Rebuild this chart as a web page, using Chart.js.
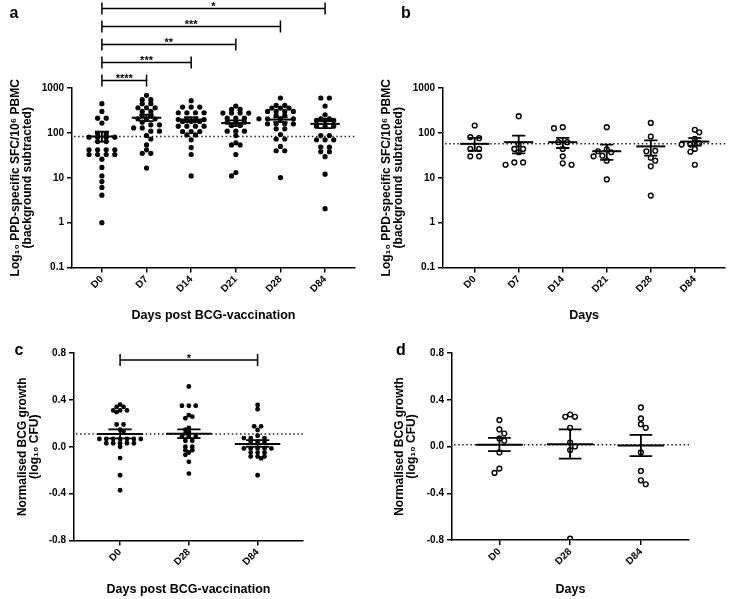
<!DOCTYPE html>
<html><head><meta charset="utf-8">
<script src="https://cdn.jsdelivr.net/npm/chart.js@4.4.1/dist/chart.umd.min.js"></script>
<style>
html,body{margin:0;padding:0;background:#fff;}
#wrap{position:relative;width:729px;height:599px;overflow:hidden;background:#fff;}
#wrap canvas{position:absolute;left:0;top:0;}
</style></head><body>
<div id="wrap">
<canvas id="ca" width="729" height="599"></canvas>
<canvas id="cb" width="729" height="599"></canvas>
<canvas id="cc" width="729" height="599"></canvas>
<canvas id="cd" width="729" height="599"></canvas>
</div>
<script>
// ---------- categories & tick labels ----------
const catsAB = ['D0','D7','D14','D21','D28','D84'];
const catsCD = ['D0','D28','D84'];
const logTicks = [0.1, 1, 10, 100, 1000];
const linTicks = [-0.8, -0.4, 0, 0.4, 0.8];

// ---------- panel a : PPD-specific SFC (log) ----------
const aD0  = [447, 301, 213, 213, 165, 98, 98, 80, 80, 80, 80, 64, 64, 42, 42, 42, 42, 33, 33, 33, 33, 26, 17, 11, 8.2, 6.1, 4.1, 1];
const aD7  = [687, 550, 550, 447, 447, 363, 363, 363, 301, 301, 245, 245, 206, 206, 206, 173, 151, 151, 129, 129, 109, 109, 87, 73, 54, 42, 35, 35, 16.4];
const aD14 = [521, 376, 376, 376, 281, 281, 281, 281, 198, 198, 198, 198, 180, 180, 180, 141, 141, 141, 141, 107, 107, 107, 90, 90, 70, 47, 33, 11];
const aD21 = [396, 333, 333, 276, 276, 276, 276, 213, 213, 213, 173, 173, 173, 146, 146, 109, 109, 109, 87, 60, 54, 54, 33, 13.1, 11];
const aD28 = [599, 410, 410, 357, 357, 357, 301, 301, 301, 301, 245, 245, 206, 206, 206, 206, 159, 159, 159, 159, 123, 123, 92, 73, 73, 50, 40, 40, 10.1];
const aD84 = [599, 599, 396, 253, 206, 206, 189, 189, 189, 141, 141, 141, 87, 87, 70, 70, 70, 48, 48, 38, 38, 29.5, 12, 2.05];
const aMean = [83, 217, 198, 165, 198, 159];
const aLow  = [64, 183, 173, 141, 173, 127];
const aHigh = [107, 254, 224, 189, 221, 183];
const aSig = [['D0','D7','****'], ['D0','D14','***'], ['D0','D21','**'], ['D0','D28','***'], ['D0','D84','*']];

// ---------- panel b : controls (log) ----------
const bD0  = [146, 80, 76, 44, 44, 30, 30];
const bD7  = [235, 56, 44, 44, 37, 22, 22, 19.5];
const bD14 = [134, 127, 62, 62, 44, 30, 21, 19.5];
const bD21 = [134, 43, 39, 37, 31, 30, 24, 9.2];
const bD28 = [167, 83, 40, 39, 28, 24, 18, 4.0];
const bD84 = [117, 103, 74, 59, 55, 55, 44, 38, 19.5];
const bMean = [57, 62, 62, 39, 50, 64];
const bLow  = [40, 35, 46, 25, 31, 52];
const bHigh = [77, 87, 77, 55, 68, 76];

// ---------- panel c : normalised BCG growth ----------
const cD0  = [0.36, 0.34, 0.34, 0.31, 0.31, 0.31, 0.295, 0.19, 0.19, 0.146, 0.13, 0.066, 0.066, 0.066, 0.066, 0.066, 0.066, 0.066, 0.03, 0.03, 0.03, 0.03, 0.03, 0.0, -0.097, -0.243, -0.371];
const cD28 = [0.514, 0.35, 0.35, 0.35, 0.27, 0.257, 0.243, 0.16, 0.146, 0.129, 0.114, 0.086, 0.086, 0.086, 0.051, 0.051, 0.0, 0.0, -0.029, -0.029, -0.049, -0.069, -0.129, -0.229];
const cD84 = [0.357, 0.32, 0.174, 0.174, 0.143, 0.094, 0.074, 0.074, 0.074, 0.043, 0.043, 0.043, -0.014, -0.014, -0.014, -0.014, -0.014, -0.05, -0.05, -0.05, -0.083, -0.083, -0.083, -0.1, -0.243];
const cMean = [0.109, 0.11, 0.023];
const cLow  = [0.071, 0.074, 0.0];
const cHigh = [0.149, 0.149, 0.057];
const cSig = [['D0','D84','*']];

// ---------- panel d : controls growth ----------
const dD0  = [0.226, 0.146, 0.111, 0.069, 0.049, -0.051, -0.189, -0.226];
const dD28 = [0.274, 0.254, 0.254, 0.16, 0.034, 0.0, -0.031, -0.789];
const dD84 = [0.334, 0.24, 0.191, 0.16, -0.051, -0.209, -0.289, -0.323];
const dMean = [0.014, 0.02, 0.009];
const dLow  = [-0.04, -0.103, -0.083];
const dHigh = [0.074, 0.146, 0.1];

// ---------- text ----------
const yTitleAB = ['Log\u2081\u2080 PPD-specific SFC/10\u2076 PBMC', '(background subtracted)'];
const yTitleCD = ['Normalised BCG growth', '(log\u2081\u2080 CFU)'];

const FONT = "'Liberation Sans', Arial, Helvetica, sans-serif";

const deco = {
  id: 'deco',
  beforeDatasetsDraw(chart, args, o) {
    const {ctx, chartArea: ca} = chart;
    const y = chart.scales.y.getPixelForValue(o.means[0]);
    ctx.save();
    ctx.strokeStyle = '#222'; ctx.lineWidth = 1.5; ctx.setLineDash([1.5, 2.6]);
    ctx.beginPath(); ctx.moveTo(ca.left + 2, y); ctx.lineTo(ca.right, y); ctx.stroke();
    ctx.restore();
  },
  afterDatasetsDraw(chart, args, o) {
    const {ctx, chartArea: ca} = chart;
    const xs = chart.scales.x, ys = chart.scales.y;
    const unit = xs.getPixelForValue(1) - xs.getPixelForValue(0);
    ctx.save();
    ctx.strokeStyle = '#000'; ctx.fillStyle = '#000'; ctx.lineCap = 'butt';
    o.means.forEach((m, i) => {
      const xc = xs.getPixelForValue(i);
      const ym = ys.getPixelForValue(m), yl = ys.getPixelForValue(o.low[i]), yh = ys.getPixelForValue(o.high[i]);
      ctx.lineWidth = 2;
      ctx.beginPath(); ctx.moveTo(xc - o.mw * unit, ym); ctx.lineTo(xc + o.mw * unit, ym); ctx.stroke();
      ctx.lineWidth = 1.8;
      ctx.beginPath();
      ctx.moveTo(xc, yl); ctx.lineTo(xc, yh);
      ctx.moveTo(xc - o.cw * unit, yl); ctx.lineTo(xc + o.cw * unit, yl);
      ctx.moveTo(xc - o.cw * unit, yh); ctx.lineTo(xc + o.cw * unit, yh);
      ctx.stroke();
    });
    (o.sig || []).forEach((s, k) => {
      const x1 = xs.getPixelForValue(o.cats.indexOf(s[0]));
      const x2 = xs.getPixelForValue(o.cats.indexOf(s[1]));
      const y = ca.top + o.sigY0 - o.sigStep * k;
      ctx.lineWidth = 1.5;
      ctx.beginPath();
      ctx.moveTo(x1, y); ctx.lineTo(x2, y);
      ctx.moveTo(x1, y - 6); ctx.lineTo(x1, y + 6);
      ctx.moveTo(x2, y - 6); ctx.lineTo(x2, y + 6);
      ctx.stroke();
      ctx.font = 'bold 11px ' + FONT; ctx.textAlign = 'center'; ctx.textBaseline = 'alphabetic';
      ctx.fillText(s[2], (x1 + x2) / 2, y + 1.5);
    });
    ctx.font = 'bold 16px ' + FONT; ctx.textAlign = 'center'; ctx.textBaseline = 'middle';
    ctx.fillText(o.letter, o.lx, o.ly);
    ctx.restore();
  }
};

function swarm(chart, p) {
  const xs = chart.scales.x, ys = chart.scales.y;
  const unit = xs.getPixelForValue(1) - xs.getPixelForValue(0);
  const ds = chart.data.datasets[0];
  const groups = {};
  ds.data.forEach((pt, i) => { (groups[pt.cat] = groups[pt.cat] || []).push({i, py: ys.getPixelForValue(pt.y)}); });
  let flip = 1;
  Object.keys(groups).forEach(cat => {
    const pts = groups[cat].sort((a, b) => a.py - b.py);
    const rows = []; let cur = null;
    pts.forEach(q => { if (cur && q.py - cur[0].py <= 1) cur.push(q); else { cur = [q]; rows.push(cur); } });
    const placed = [];
    rows.forEach(row => {
      const k = row.length;
      const cands = [];
      for (let s = 0; s <= 14; s++) {
        const mis = k > 1 && ((s % 2 === 1) !== (k % 2 === 0));
        const key = s / 2 + (mis ? 0.6 : 0);
        cands.push({pos: s / 2, key: key + (flip > 0 ? 0 : 0.001)});
        if (s > 0) cands.push({pos: -s / 2, key: key + (flip > 0 ? 0.001 : 0)});
      }
      flip = -flip;
      cands.sort((a, b) => a.key - b.key);
      const used = [];
      row.forEach(q => {
        let chosen = 0;
        for (const c of cands) {
          const px = c.pos * p.sp;
          if (used.some(u => Math.abs(u - px) < p.sp * 0.95)) continue;
          if (placed.some(w => Math.hypot(w.px - px, w.py - q.py) < p.coll)) continue;
          chosen = px; break;
        }
        used.push(chosen);
        placed.push({px: chosen, py: q.py});
        ds.data[q.i].x = +cat + chosen / unit;
      });
    });
  });
  chart.update('none');
}

function makeChart(id, p) {
  const data = [];
  p.groups.forEach((vals, ci) => vals.forEach(v => data.push({x: ci, y: v, cat: ci})));
  const grid = {display: true, drawOnChartArea: false, drawTicks: true, tickLength: 5, color: '#000', lineWidth: 1.5};
  const border = {display: true, color: '#000', width: 1.5};
  const tickFont = {family: FONT, size: 10, weight: 'bold'};
  const chart = new Chart(document.getElementById(id), {
    type: 'scatter',
    data: {datasets: [{
      data,
      pointRadius: p.r, pointHoverRadius: p.r,
      pointBackgroundColor: p.open ? 'rgba(0,0,0,0)' : '#000',
      pointBorderColor: '#000',
      pointBorderWidth: p.open ? 1.4 : 0
    }]},
    options: {
      responsive: false, animation: false, events: [],
      layout: {padding: p.pad},
      plugins: {
        legend: {display: false}, tooltip: {enabled: false},
        deco: {means: p.mean, low: p.low, high: p.high, mw: 0.33, cw: p.cw, cats: p.cats,
               sig: p.sig, sigY0: p.sigY0, sigStep: p.sigStep, letter: p.letter, lx: p.lx, ly: p.ly}
      },
      scales: {
        x: {
          type: 'linear', min: p.xmin, max: p.xmax,
          afterBuildTicks: s => { s.ticks = p.cats.map((c, i) => ({value: i})); },
          afterFit: s => { s.height = p.xH; },
          ticks: {autoSkip: false, minRotation: 45, maxRotation: 45, padding: 1, color: '#000', font: tickFont,
                  callback: v => p.cats[v] ?? ''},
          grid, border,
          title: {display: true, text: p.xTitle, color: '#000', padding: 0,
                  font: {family: FONT, size: 12.5, weight: 'bold', lineHeight: 1}}
        },
        y: {
          type: p.log ? 'logarithmic' : 'linear', min: p.ymin, max: p.ymax,
          afterBuildTicks: s => { s.ticks = p.yTicks.map(v => ({value: v})); },
          afterFit: s => { s.width = p.yW; },
          ticks: {padding: 3, color: '#000', font: tickFont, callback: v => p.fmt(v)},
          grid, border,
          title: {display: true, text: p.yTitle, color: '#000', padding: 0,
                  font: {family: FONT, size: 12, weight: 'bold', lineHeight: 1}}
        }
      }
    },
    plugins: [deco]
  });
  swarm(chart, p);
  return chart;
}

const fmtLog = v => String(v);
const fmtLin = v => Number(v).toFixed(1);

makeChart('ca', {
  cats: catsAB, groups: [aD0, aD7, aD14, aD21, aD28, aD84], mean: aMean, low: aLow, high: aHigh,
  log: true, ymin: 0.1, ymax: 1000, yTicks: logTicks, fmt: fmtLog,
  xTitle: 'Days post BCG-vaccination', yTitle: yTitleAB,
  pad: {left: 10, right: 374, top: 88, bottom: 276.75}, yW: 62, xH: 54.75, xmin: -0.67, xmax: 5.67,
  r: 2.6, open: false, sp: 8.6, coll: 3.5, cw: 0.16,
  sig: aSig, sigY0: -7.5, sigStep: 18, letter: 'a', lx: 14, ly: 14
});
makeChart('cb', {
  cats: catsAB, groups: [bD0, bD7, bD14, bD21, bD28, bD84], mean: bMean, low: bLow, high: bHigh,
  log: true, ymin: 0.1, ymax: 1000, yTicks: logTicks, fmt: fmtLog,
  xTitle: 'Days', yTitle: yTitleAB,
  pad: {left: 381, right: 1, top: 88, bottom: 276.75}, yW: 62, xH: 54.75, xmin: -0.72, xmax: 5.69,
  r: 2.4, open: true, sp: 8.8, coll: 5.0, cw: 0.15,
  sig: [], sigY0: 0, sigStep: 0, letter: 'b', lx: 406, ly: 14
});
makeChart('cc', {
  cats: catsCD, groups: [cD0, cD28, cD84], mean: cMean, low: cLow, high: cHigh,
  log: false, ymin: -0.8, ymax: 0.8, yTicks: linTicks, fmt: fmtLin,
  xTitle: 'Days post BCG-vaccination', yTitle: yTitleCD,
  pad: {left: 16.5, right: 426, top: 353, bottom: 2.75}, yW: 57.5, xH: 55.75, xmin: -0.67, xmax: 2.66,
  r: 2.4, open: false, sp: 6.9, coll: 3.3, cw: 0.17,
  sig: cSig, sigY0: 7, sigStep: 0, letter: 'c', lx: 19, ly: 351
});
makeChart('cd', {
  cats: catsCD, groups: [dD0, dD28, dD84], mean: dMean, low: dLow, high: dHigh,
  log: false, ymin: -0.8, ymax: 0.8, yTicks: linTicks, fmt: fmtLin,
  xTitle: 'Days', yTitle: yTitleCD,
  pad: {left: 394, right: 40, top: 353, bottom: 2.75}, yW: 58, xH: 56.25, xmin: -0.67, xmax: 2.68,
  r: 2.4, open: true, sp: 9.7, coll: 5.0, cw: 0.16,
  sig: [], sigY0: 0, sigStep: 0, letter: 'd', lx: 401, ly: 351
});
</script>
</body></html>
